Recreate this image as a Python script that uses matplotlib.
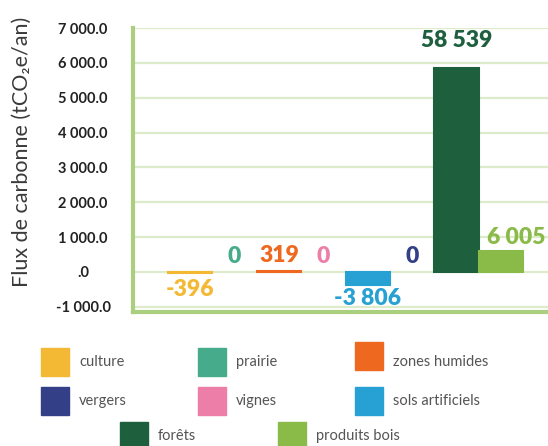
import numpy as np
import matplotlib.pyplot as plt
from matplotlib.patches import Rectangle

categories = ['culture', 'prairie', 'zones humides', 'vignes',
              'sols artificiels', 'vergers', 'forêts', 'produits bois']
values = [-396, 0, 319, 0, -3806, 0, 58539, 6005]
value_labels = ['-396', '0', '319', '0', '-3 806', '0', '58 539', '6 005']
colors = ['#f4b934', '#46ab8a', '#ee6820', '#ec7ea8',
          '#27a0d3', '#333f87', '#1e5f3e', '#8aba48']
yticks = [-1000, 0, 1000, 2000, 3000, 4000, 5000, 6000, 7000]
ytick_labels = ['-1 000.0', '.0', '1 000.0', '2 000.0', '3 000.0',
                '4 000.0', '5 000.0', '6 000.0', '7 000.0']
legend_rows = [['culture', 'prairie', 'zones humides'],
               ['vergers', 'vignes', 'sols artificiels'],
               ['forêts', 'produits bois']]

FONT = ['Lato', 'DejaVu Sans']
plt.rcParams['font.family'] = FONT

fig = plt.figure(figsize=(5.48, 4.46), dpi=100)
ax = fig.add_axes([133 / 548, 1 - 312 / 446, 1 - 133 / 548, (312 - 28) / 446])

x = np.arange(len(categories))
heights = np.array(values) / 10.0
lw = [1.5 if v != 0 else 0 for v in values]
ax.bar(x, heights, width=1.0, color=colors, edgecolor=colors, linewidth=lw, zorder=3)

# value labels (offsets in pixels -> points)
offsets = {0: (0, -16), 4: (0, -13), 6: (0, 27), 7: (15, 14)}
for i, (h, lab, c) in enumerate(zip(heights, value_labels, colors)):
    dx, dy = offsets.get(i, (0, 15))
    ax.annotate(lab, (x[i], h), xytext=(dx * 0.72, dy * 0.72), textcoords='offset points',
                ha='center', va='center', color=c, fontsize=16.5, fontweight='heavy',
                zorder=4)

ax.set_xlim(-1.29, 8.06)
ax.set_ylim(-1150, 7000)
ax.set_xticks([])
ax.set_yticks(yticks)
ax.set_yticklabels(ytick_labels, fontsize=10.5, fontweight='bold', color='#222222')
ax.tick_params(axis='y', length=0, pad=36)
for lab in ax.get_yticklabels():
    lab.set_ha('center')
ax.grid(axis='y', color='#dcebc9', linewidth=1.6, zorder=0)
for s in ['top', 'right']:
    ax.spines[s].set_visible(False)
for s in ['left', 'bottom']:
    ax.spines[s].set_color('#a9cf7f')
    ax.spines[s].set_linewidth(3)

fig.text(22 / 548, 1 - 152 / 446, 'Flux de carbonne (tCO\u2082e/an)', rotation=90,
         ha='center', va='center', fontsize=15.5, color='#3a3a3a', fontweight='normal')

# legend
col_x = [41, 198, 355]
row_y = [362, 401, 436]
row_x = [col_x, col_x, [120, 278]]
name_to_color = dict(zip(categories, colors))
size = 28
for r, row in enumerate(legend_rows):
    for c, name in enumerate(row):
        px = row_x[r][c]
        py = row_y[r]
        if name == 'zones humides':
            py -= 6
        fig.add_artist(Rectangle((px / 548, 1 - (py + size / 2) / 446), size / 548, size / 446,
                                 transform=fig.transFigure, color=name_to_color[name]))
        ty = py + (6 if name == 'zones humides' else 0)
        fig.text((px + size + 10) / 548, 1 - ty / 446, name, ha='left', va='center',
                 fontsize=10.5, color='#555555')

fig.savefig('out.png', dpi=100)
